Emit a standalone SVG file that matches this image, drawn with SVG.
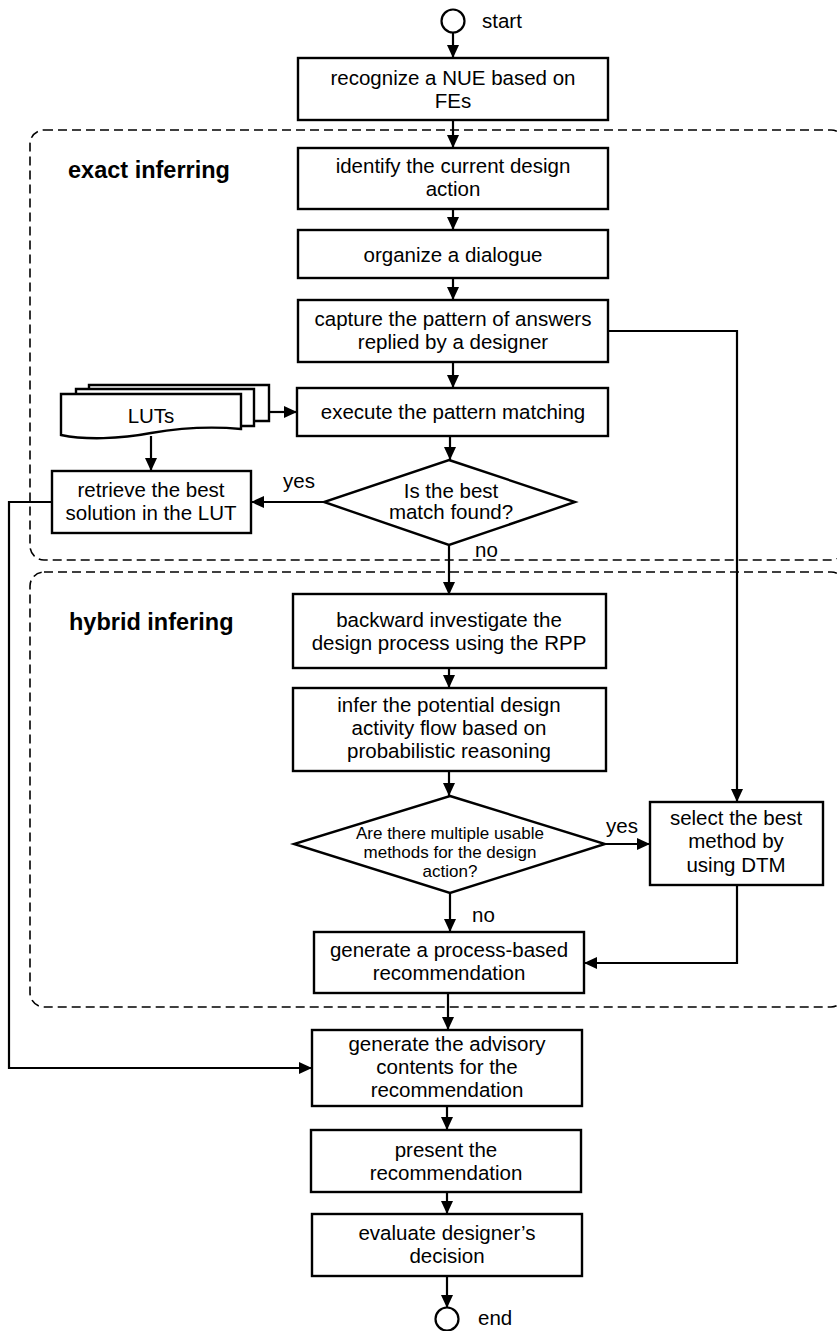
<svg xmlns="http://www.w3.org/2000/svg" width="837" height="1331" viewBox="0 0 837 1331">
<style>
.box{fill:#fff;stroke:#000;stroke-width:2.4}
.t{font-family:"Liberation Sans",Arial,sans-serif;font-size:20.5px;fill:#000;text-anchor:middle}
.ts{font-family:"Liberation Sans",Arial,sans-serif;font-size:17px;fill:#000;text-anchor:middle}
.lbl{font-family:"Liberation Sans",Arial,sans-serif;font-size:20.5px;fill:#000}
.hdr{font-family:"Liberation Sans",Arial,sans-serif;font-size:23.5px;font-weight:bold;fill:#000}
.reg{fill:none;stroke:#000;stroke-width:1.6;stroke-dasharray:9 5}
.c{fill:none;stroke:#000;stroke-width:2.2}
.ca{fill:none;stroke:#000;stroke-width:2.2;marker-end:url(#ah)}
</style>
<defs>
<marker id="ah" markerUnits="userSpaceOnUse" markerWidth="14" markerHeight="12" refX="13" refY="6" orient="auto">
<path d="M0,0 L13,6 L0,12 Z" fill="#000"/>
</marker>
</defs>
<rect width="837" height="1331" fill="#fff"/>

<g id="regions">
<rect id="exact-region" class="reg" x="30" y="130" width="815" height="430" rx="14"/>
<rect id="hybrid-region" class="reg" x="30" y="572" width="815" height="435" rx="14"/>
<text class="hdr" x="68" y="178">exact inferring</text>
<text class="hdr" x="69" y="630">hybrid infering</text>
</g>

<g id="connectors">
<line class="ca" x1="453" y1="33" x2="453" y2="58"/>
<line class="ca" x1="453" y1="120" x2="453" y2="148"/>
<line class="ca" x1="453" y1="209" x2="453" y2="230"/>
<line class="ca" x1="453" y1="278" x2="453" y2="300"/>
<line class="ca" x1="453" y1="362" x2="453" y2="388"/>
<line class="ca" x1="450" y1="436" x2="450" y2="460"/>
<polyline class="ca" points="269,412 297,412"/>
<line class="ca" x1="151" y1="436" x2="151" y2="471"/>
<line class="ca" x1="324" y1="502" x2="251" y2="502"/>
<line class="ca" x1="449" y1="545" x2="449" y2="595"/>
<line class="ca" x1="449" y1="668" x2="449" y2="688"/>
<line class="ca" x1="449" y1="771" x2="449" y2="796"/>
<polyline class="ca" points="608,331 737,331 737,802"/>
<line class="ca" x1="605" y1="844" x2="650" y2="844"/>
<line class="ca" x1="450" y1="893" x2="450" y2="932"/>
<polyline class="ca" points="737,885 737,963 584,963"/>
<line class="ca" x1="448" y1="993" x2="448" y2="1030"/>
<polyline class="ca" points="52,502 9,502 9,1068 312,1068"/>
<line class="ca" x1="447" y1="1106" x2="447" y2="1130"/>
<line class="ca" x1="447" y1="1192" x2="447" y2="1214"/>
<line class="ca" x1="447" y1="1276" x2="447" y2="1308"/>
<text class="lbl" x="283" y="488">yes</text>
<text class="lbl" x="475" y="557">no</text>
<text class="lbl" x="606" y="833">yes</text>
<text class="lbl" x="472" y="922">no</text>
</g>

<g id="start">
<circle cx="453" cy="21" r="11.5" fill="#fff" stroke="#000" stroke-width="2.2"/>
<text class="lbl" x="482" y="28">start</text>
</g>

<g id="recognize">
<rect class="box" x="298" y="58" width="310" height="62"/>
<text class="t" x="453" y="85">recognize a NUE based on</text>
<text class="t" x="453" y="108">FEs</text>
</g>

<g id="identify">
<rect class="box" x="298" y="148" width="310" height="61"/>
<text class="t" x="453" y="173">identify the current design</text>
<text class="t" x="453" y="196">action</text>
</g>

<g id="organize">
<rect class="box" x="298" y="230" width="310" height="48"/>
<text class="t" x="453" y="262">organize a dialogue</text>
</g>

<g id="capture">
<rect class="box" x="298" y="300" width="310" height="62"/>
<text class="t" x="453" y="326">capture the pattern of answers</text>
<text class="t" x="453" y="349">replied by a designer</text>
</g>

<g id="execute">
<rect class="box" x="297" y="388" width="311" height="48"/>
<text class="t" x="453" y="419">execute the pattern matching</text>
</g>

<g id="luts">
<path class="box" d="M89,389 V385 H269 V421 H254"/>
<path class="box" d="M76,394 V389 H254 V426 H241"/>
<path class="box" d="M61,394 H241 V429 C210,426 180,428 151,433 C120,439 85,440 61,435 Z"/>
<text class="t" x="151" y="423">LUTs</text>
</g>

<g id="retrieve">
<rect class="box" x="52" y="471" width="199" height="62"/>
<text class="t" x="151" y="497">retrieve the best</text>
<text class="t" x="151" y="520">solution in the LUT</text>
</g>

<g id="best-match">
<polygon class="box" points="449,460 575,502 449,545 324,502"/>
<text class="t" x="451" y="498">Is the best</text>
<text class="t" x="451" y="519">match found?</text>
</g>

<g id="backward">
<rect class="box" x="293" y="594" width="313" height="74"/>
<text class="t" x="449" y="627">backward investigate the</text>
<text class="t" x="449" y="650">design process using the RPP</text>
</g>

<g id="infer">
<rect class="box" x="293" y="688" width="313" height="83"/>
<text class="t" x="449" y="712">infer the potential design</text>
<text class="t" x="449" y="735">activity flow based on</text>
<text class="t" x="449" y="758">probabilistic reasoning</text>
</g>

<g id="multiple-methods">
<polygon class="box" points="450,796 605,844 450,893 294,844"/>
<text class="ts" x="450" y="839">Are there multiple usable</text>
<text class="ts" x="450" y="858">methods for the design</text>
<text class="ts" x="450" y="877">action?</text>
</g>

<g id="select">
<rect class="box" x="650" y="802" width="173" height="83"/>
<text class="t" x="736" y="825">select the best</text>
<text class="t" x="736" y="848">method by</text>
<text class="t" x="736" y="872">using DTM</text>
</g>

<g id="process-based">
<rect class="box" x="314" y="932" width="270" height="61"/>
<text class="t" x="449" y="957">generate a process-based</text>
<text class="t" x="449" y="980">recommendation</text>
</g>

<g id="advisory">
<rect class="box" x="312" y="1030" width="270" height="76"/>
<text class="t" x="447" y="1051">generate the advisory</text>
<text class="t" x="447" y="1074">contents for the</text>
<text class="t" x="447" y="1097">recommendation</text>
</g>

<g id="present">
<rect class="box" x="311" y="1130" width="270" height="62"/>
<text class="t" x="446" y="1157">present the</text>
<text class="t" x="446" y="1180">recommendation</text>
</g>

<g id="evaluate">
<rect class="box" x="312" y="1214" width="270" height="62"/>
<text class="t" x="447" y="1240">evaluate designer’s</text>
<text class="t" x="447" y="1263">decision</text>
</g>

<g id="end">
<circle cx="447" cy="1319" r="11.5" fill="#fff" stroke="#000" stroke-width="2.2"/>
<text class="lbl" x="478" y="1325">end</text>
</g>
</svg>
